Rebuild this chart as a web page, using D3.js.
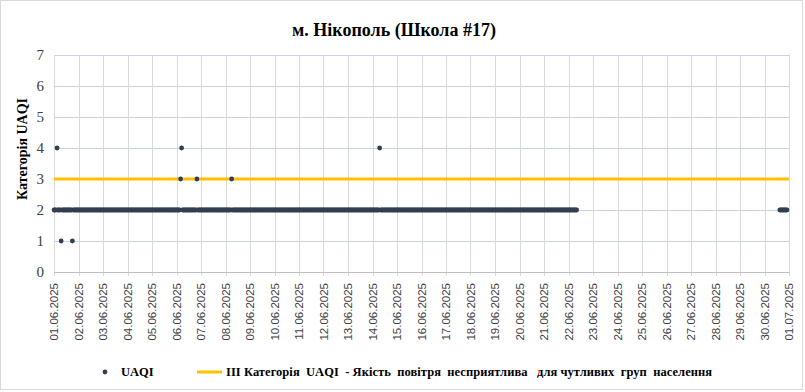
<!DOCTYPE html>
<html>
<head>
<meta charset="utf-8">
<script src="https://cdn.jsdelivr.net/npm/d3@7"></script>
<style>
  body { margin: 0; background: #fff; }
  svg { display: block; }
</style>
</head>
<body>
<svg id="chart"></svg>
<script>
// hourly UAQI category per day (24 chars, "-" = no data), 01.06 .. 30.06
const hourly = [
  "222422212222222222122222", // 01.06
  "222222222222222222222222",
  "222222222222222222222222",
  "222222222222222222222222",
  "222222222222222222222222",
  "222234222222222222223222", // 06.06
  "222222222222222222222222",
  "222222322222222222222222", // 08.06
  "222222222222222222222222",
  "222222222222222222222222",
  "222222222222222222222222",
  "222222222222222222222222",
  "222222222222222222222222",
  "222222242222222222222222", // 14.06
  "222222222222222222222222",
  "222222222222222222222222",
  "222222222222222222222222",
  "222222222222222222222222",
  "222222222222222222222222",
  "222222222222222222222222",
  "222222222222222222222222",
  "222222222---------------", // 22.06
  "------------------------",
  "------------------------",
  "------------------------",
  "------------------------",
  "------------------------",
  "------------------------",
  "------------------------",
  "---------------22222222-"  // 30.06
];
const dayLabels = [
  "01.06.2025", "02.06.2025", "03.06.2025", "04.06.2025", "05.06.2025",
  "06.06.2025", "07.06.2025", "08.06.2025", "09.06.2025", "10.06.2025",
  "11.06.2025", "12.06.2025", "13.06.2025", "14.06.2025", "15.06.2025",
  "16.06.2025", "17.06.2025", "18.06.2025", "19.06.2025", "20.06.2025",
  "21.06.2025", "22.06.2025", "23.06.2025", "24.06.2025", "25.06.2025",
  "26.06.2025", "27.06.2025", "28.06.2025", "29.06.2025", "30.06.2025",
  "01.07.2025"
];
const yTicks = [0, 1, 2, 3, 4, 5, 6, 7];
const thresholdValue = 3;
const title = "м. Нікополь (Школа #17)";
const yTitle = "Категорія UAQI";
const legendPoints = "UAQI";
const legendLine = "III Категорія  UAQI  - Якість  повітря  несприятлива   для чутливих  груп  населення";

const W = 805, H = 392;
const margin = { top: 55, right: 16, bottom: 120, left: 54 };

const points = [];
hourly.forEach((s, d) => {
  s.split("").forEach((c, h) => {
    if (c !== "-") points.push({ t: new Date(2025, 5, 1 + d, h), v: +c });
  });
});
const days = dayLabels.map((l, i) => new Date(2025, 5, 1 + i));

const svg = d3.select("#chart").attr("width", W).attr("height", H);

svg.append("rect")
   .attr("x", 0.5).attr("y", 0.5)
   .attr("width", W - 3).attr("height", H - 3)
   .attr("fill", "#fff").attr("stroke", "#d9d9d9");

const x = d3.scaleTime()
            .domain([days[0], days[days.length - 1]])
            .range([54, 789]);
const y = d3.scaleLinear()
            .domain([0, 7])
            .range([272, 55]);

// horizontal gridlines
svg.append("g")
   .selectAll("line")
   .data(yTicks.filter(d => d > 0))
   .enter().append("line")
   .attr("x1", x.range()[0]).attr("x2", x.range()[1])
   .attr("y1", d => Math.round(y(d)) + 0.5).attr("y2", d => Math.round(y(d)) + 0.5)
   .attr("stroke", "#c9d3e6");

// vertical gridlines per day
svg.append("g")
   .selectAll("line")
   .data(days)
   .enter().append("line")
   .attr("x1", d => Math.round(x(d)) + 0.5).attr("x2", d => Math.round(x(d)) + 0.5)
   .attr("y1", y(7)).attr("y2", y(0) + 4)
   .attr("stroke", "#d9d9d9");

// x axis line
svg.append("line")
   .attr("x1", x.range()[0]).attr("x2", x.range()[1])
   .attr("y1", Math.round(y(0)) + 0.5).attr("y2", Math.round(y(0)) + 0.5)
   .attr("stroke", "#bfbfbf");

// y tick labels
svg.append("g")
   .selectAll("text")
   .data(yTicks)
   .enter().append("text")
   .attr("x", 44)
   .attr("y", d => y(d))
   .attr("dy", "0.35em")
   .attr("text-anchor", "end")
   .style("font", "15px 'Liberation Serif', serif")
   .attr("fill", "#404040")
   .text(d => d);

// x tick labels
svg.append("g")
   .selectAll("text")
   .data(days)
   .enter().append("text")
   .attr("transform", (d, i) => `translate(${x(d) + 4},283) rotate(-90)`)
   .attr("text-anchor", "end")
   .style("font", "11.5px 'Liberation Sans', sans-serif")
   .attr("fill", "#404040")
   .text((d, i) => dayLabels[i]);

// threshold line
svg.append("line")
   .attr("x1", x.range()[0]).attr("x2", x.range()[1])
   .attr("y1", y(thresholdValue)).attr("y2", y(thresholdValue))
   .attr("stroke", "#ffc000")
   .attr("stroke-width", 3);

// points
svg.append("g")
   .selectAll("circle")
   .data(points)
   .enter().append("circle")
   .attr("cx", d => x(d.t))
   .attr("cy", d => y(d.v))
   .attr("r", 2.4)
   .attr("fill", "#333f50");

// title
svg.append("text")
   .attr("x", 394).attr("y", 36)
   .attr("text-anchor", "middle")
   .style("font", "bold 18px 'Liberation Serif', serif")
   .attr("fill", "#000")
   .text(title);

// y title
svg.append("text")
   .attr("transform", "translate(27,149) rotate(-90)")
   .attr("text-anchor", "middle")
   .style("font", "bold 14px 'Liberation Serif', serif")
   .attr("fill", "#000")
   .text(yTitle);

// legend
const lg = svg.append("g");
lg.append("circle")
  .attr("cx", 105).attr("cy", 372).attr("r", 2.4)
  .attr("fill", "#333f50");
lg.append("text")
  .attr("x", 121).attr("y", 376)
  .style("font", "bold 12.5px 'Liberation Serif', serif")
  .text(legendPoints);
lg.append("line")
  .attr("x1", 197).attr("x2", 222)
  .attr("y1", 372).attr("y2", 372)
  .attr("stroke", "#ffc000").attr("stroke-width", 3);
lg.append("text")
  .attr("x", 226).attr("y", 376)
  .attr("textLength", 486)
  .attr("lengthAdjust", "spacing")
  .style("font", "bold 12.5px 'Liberation Serif', serif")
  .style("white-space", "pre")
  .text(legendLine);
</script>
</body>
</html>
